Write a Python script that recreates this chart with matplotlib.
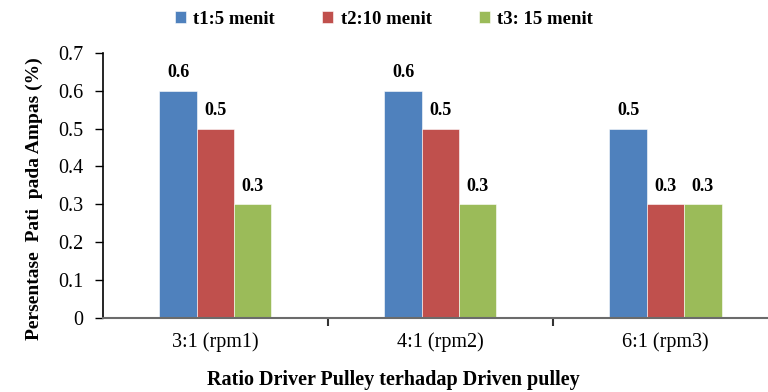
#import libraries for plotting
import matplotlib.pyplot as plt
import numpy as np

#chart data
groups = ["3:1 (rpm1)", "4:1 (rpm2)", "6:1 (rpm3)"]
series = ["t1:5 menit", "t2:10 menit", "t3: 15 menit"]
t1 = [0.6, 0.6, 0.5]
t2 = [0.5, 0.5, 0.3]
t3 = [0.3, 0.3, 0.3]
colors = ["#4F81BD", "#C0504D", "#9BBB59"]

plt.rcParams['font.family'] = ['Liberation Serif', 'DejaVu Serif']

fig = plt.figure(figsize=(7.68, 3.92), dpi=100)
ax = fig.add_axes([0.134, 0.189, 0.879, 0.676])

x = np.arange(len(groups))
w = 0.166
for i, (vals, name) in enumerate(zip([t1, t2, t3], series)):
    pos = x + (i - 1) * w
    bars = ax.bar(pos, vals, w, color=colors[i], label=name,
                  edgecolor="white", linewidth=0.4)
    #value labels on top of bars
    for b, v in zip(bars, vals):
        ax.annotate("{:.1f}".format(v), (b.get_x() + b.get_width() / 2, v),
                    xytext=(0, 7), textcoords="offset points",
                    ha="center", va="bottom", fontsize=13, fontweight="bold")

ax.set_xlim(-0.5, 2.5)
ax.set_ylim(0, 0.7)
ax.set_yticks(np.arange(0, 0.71, 0.1))
ax.set_yticklabels(["0", "0.1", "0.2", "0.3", "0.4", "0.5", "0.6", "0.7"])
ax.set_xticks(x)
ax.set_xticklabels(groups)
ax.set_xticks([0.5, 1.5], minor=True)
ax.tick_params(axis="x", which="major", length=0, labelsize=14.5, pad=10)
ax.tick_params(axis="x", which="minor", length=6, width=1.5, color="#333333")
ax.tick_params(axis="y", length=6, width=1, labelsize=14.5, pad=8)

ax.spines["top"].set_visible(False)
ax.spines["right"].set_visible(False)
ax.spines["bottom"].set_color("#6b6b6b")
ax.spines["bottom"].set_linewidth(1.5)
ax.spines["left"].set_linewidth(1.2)

ax.set_ylabel("Persentase  Pati  pada Ampas (%)", fontsize=14, fontweight="bold", va="center")
ax.yaxis.set_label_coords(-0.102, 0.45)
ax.set_xlabel("Ratio Driver Pulley terhadap Driven pulley", fontsize=14.5, fontweight="bold", va="center")
ax.xaxis.set_label_coords(0.43, -0.236)

fig.legend(loc="upper center", bbox_to_anchor=(0.5, 1.015), ncol=3, frameon=False,
           prop={"size": 13.5, "weight": "bold"}, handlelength=0.6, handleheight=0.6,
           columnspacing=2.5, handletextpad=0.4)

plt.savefig("out.png", dpi=100)
